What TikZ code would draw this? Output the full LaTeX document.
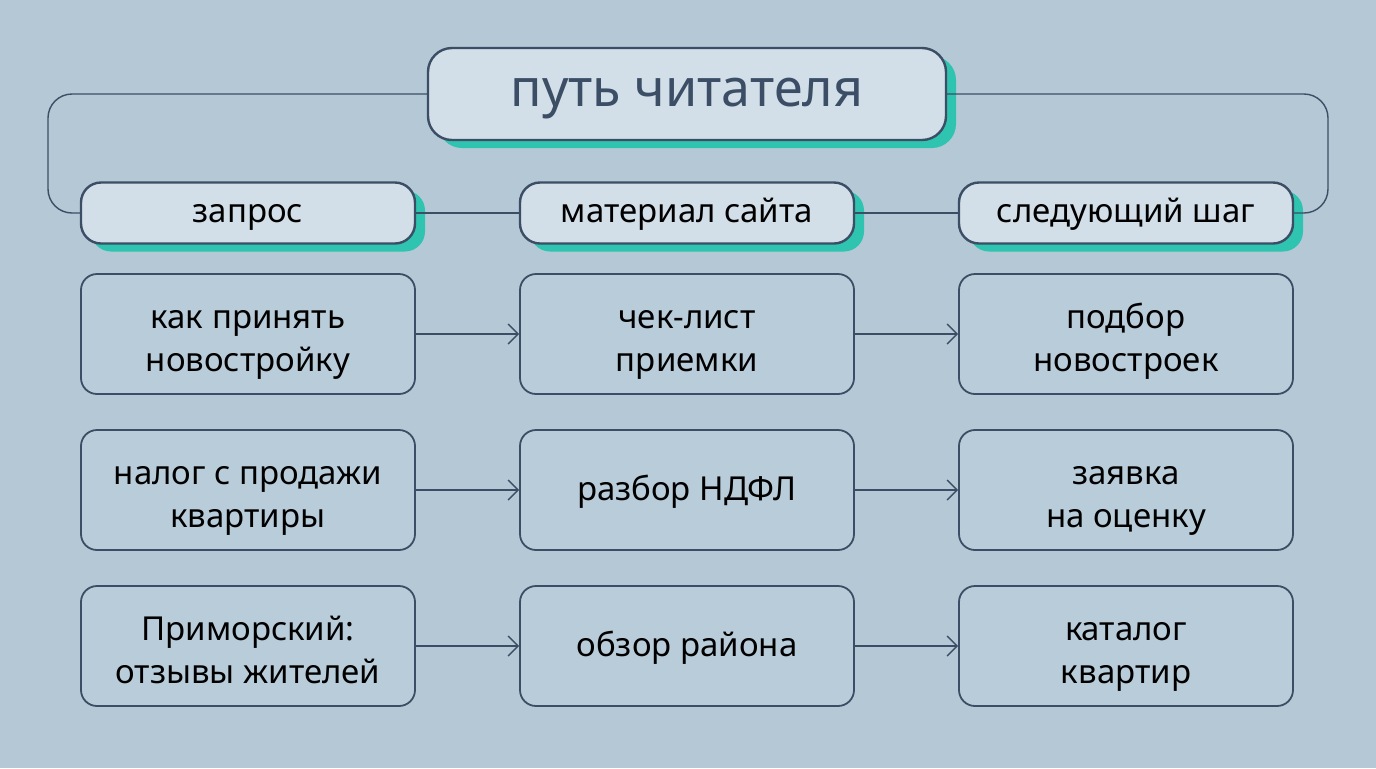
\documentclass[tikz,border=0pt]{standalone}
\usepackage{fontspec}
\setmainfont{Noto Sans}
\usetikzlibrary{arrows.meta}
\definecolor{bgcol}{HTML}{B5C8D6}
\definecolor{ink}{HTML}{3B4E66}
\definecolor{pill}{HTML}{D3DFE8}
\definecolor{boxcol}{HTML}{B9CCDA}
\definecolor{teal}{HTML}{2EC4B0}
\tikzset{
	head/.style={draw=ink, line width=1.2pt, fill=pill, rounded corners=10pt, text=black,
		minimum width=167pt, minimum height=30.5pt, font=\fontsize{16.5}{18}\selectfont,
		text height=.95em, text depth=.05em,
		preaction={fill=teal, transform canvas={shift={(5pt,-4pt)}}}},
	cell/.style={draw=ink, line width=0.9pt, fill=boxcol, rounded corners=8pt, text=black,
		minimum width=167pt, minimum height=60pt, align=center,
		font=\fontsize{16.5}{21.5}\selectfont, text height=4em, text depth=.25em},
	single/.style={text height=1em, text depth=0pt},
	link/.style={draw=ink, line width=0.7pt},
	flow/.style={link, -{Straight Barb[length=5pt,width=10pt]}}
}
\begin{document}
\begin{tikzpicture}[x=0.5pt,y=-0.5pt]
	\fill[bgcol] (0,0) rectangle (1376,768);

	% titel
	\node[head, minimum width=259pt, minimum height=46pt, rounded corners=12pt,
		text=ink, font=\fontsize{26}{30}\selectfont, text height=1.2em, text depth=0pt]
		(title) at (687,94) {путь читателя};

	% kopfzeile
	\node[head] (h1) at (248,213) {запрос};
	\node[head] (h2) at (687,213) {материал сайта};
	\node[head] (h3) at (1126,213) {следующий шаг};

	\draw[link, rounded corners=12pt] (title.west) -- (48,94) -- (48,213) -- (h1.west);
	\draw[link, rounded corners=12pt] (title.east) -- (1328,94) -- (1328,213) -- (h3.east);
	\draw[link] (h1) -- (h2);
	\draw[link] (h2) -- (h3);

	% zeilen
	\node[cell] (a1) at (248,334) {как принять\\новостройку};
	\node[cell] (a2) at (687,334) {чек-лист\\приемки};
	\node[cell] (a3) at (1126,334) {подбор\\новостроек};

	\node[cell] (b1) at (248,490) {налог с продажи\\квартиры};
	\node[cell, single] (b2) at (687,490) {разбор НДФЛ};
	\node[cell] (b3) at (1126,490) {заявка\\на оценку};

	\node[cell] (c1) at (248,646) {Приморский:\\отзывы жителей};
	\node[cell, single] (c2) at (687,646) {обзор района};
	\node[cell] (c3) at (1126,646) {каталог\\квартир};

	\foreach \r in {a,b,c}{
		\draw[flow] (\r1) -- (\r2);
		\draw[flow] (\r2) -- (\r3);
	}
\end{tikzpicture}
\end{document}
